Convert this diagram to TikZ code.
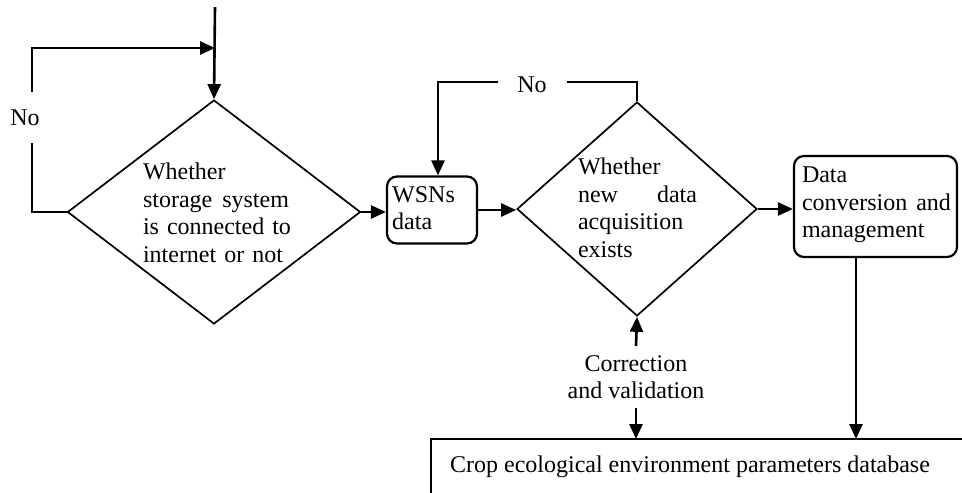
\documentclass[tikz,border=0pt]{standalone}
\usepackage{fontspec}
\setmainfont{Liberation Serif}
\usetikzlibrary{arrows.meta,shapes.geometric,calc}
\begin{document}
\begin{tikzpicture}[x=1pt,y=-1pt,
  font=\fontsize{24}{27.5}\selectfont,
  conn/.style={line width=2.6pt,-{Triangle[length=15pt,width=13pt]}},
  plainline/.style={line width=2.6pt},
  dia/.style={draw,shape=diamond,line width=1.7pt,inner sep=0pt},
  rbox/.style={draw,rectangle,rounded corners=10pt,line width=2.2pt,inner sep=0pt},
  txt/.style={inner sep=0pt,align=left}
]
\useasboundingbox (0,0) rectangle (962,493);

% shapes
\node[dia,minimum width=293pt,minimum height=224pt] (d1) at (214,212) {};
\node[dia,minimum width=240pt,minimum height=214pt] (d2) at (637,209) {};
\node[rbox,minimum width=90pt,minimum height=67pt] (wsn) at (432,210) {};
\node[rbox,minimum width=163pt,minimum height=101pt] (dc) at (875.5,206.5) {};

% texts
\node[txt,text width=146pt] (t1) at (216,213)
  {Whether\\storage\hfill system\\\mbox{is connected to}\\\mbox{internet or not}};
\node[txt,text width=119pt] (t2) at (637.5,208)
  {Whether\\new\hfill data\\acquisition\\exists};
\node[txt,anchor=west] (tw) at (392,208) {WSNs\\data};
\node[txt,text width=149pt] (tdc) at (876.5,205.2)
  {Data\\conversion\hfill and\\management};
\node[inner xsep=0pt,inner ysep=9pt,align=center] (corr) at (636,377)
  {Correction\\and validation};
\node[inner sep=0pt,anchor=base] (db) at (690,472)
  {Crop ecological environment parameters database};
\node[inner sep=0pt] (no1) at (25,118) {No};
\node[inner sep=0pt] (no2) at (532,85) {No};

% database open box
\coordinate (dbtl) at (431,439);
\draw[line width=1.7pt] (962,439) -- (dbtl) -- (431,493);

% coordinates for connector paths
\coordinate (start) at (215,7);
\coordinate (l1a) at (32,143);
\coordinate (l1b) at (32,92);
\coordinate (l1c) at (32,48);
\coordinate (l1d) at (215,48);
\coordinate (l2a) at (567,82);
\coordinate (l2b) at (498,82);
\coordinate (l2c) at (438,82);
\coordinate (a3) at (856,0);

% connectors
\draw[conn] (start) -- (d1.north);
\draw[plainline] (d1.west) -| (l1a);
\draw[conn] (l1b) -- (l1c) -- (l1d);
\draw[conn] (d1.east) -- (d1.east -| wsn.west);
\draw[conn] (wsn.east) -- (wsn.east -| d2.west);
\draw[conn] (d2.east) -- (d2.east -| dc.west);
\draw[plainline] (d2.north) |- (l2a);
\draw[conn] (l2b) -- (l2c) -- (l2c |- wsn.north);
\draw[conn] (dc.south -| a3) -- (dbtl -| a3);
\draw[conn] (corr.north) -- (d2.south);
\draw[conn] (corr.south) -- (corr.south |- dbtl);
\end{tikzpicture}
\end{document}
